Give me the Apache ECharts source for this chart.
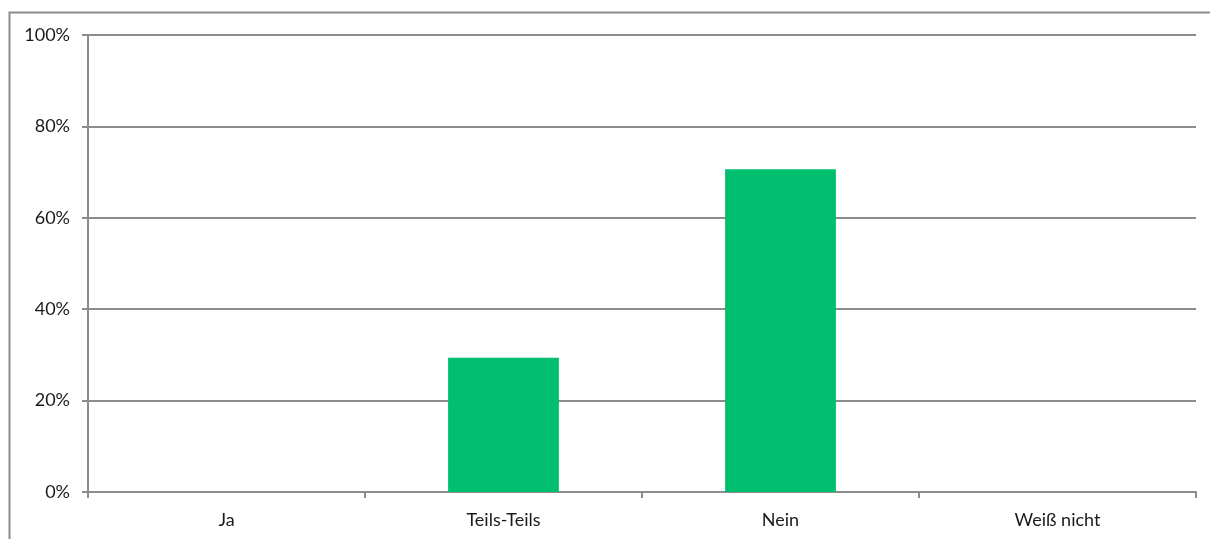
<!DOCTYPE html>
<html>
<head>
<meta charset="utf-8">
<script src="https://cdn.jsdelivr.net/npm/echarts@6/dist/echarts.min.js"></script>
<style>
  html, body { margin: 0; padding: 0; background: #fff; }
  #chart { width: 1210px; height: 539px; }
</style>
</head>
<body>
<div id="chart"></div>
<script>
// Survey answers and their share of respondents (percent)
const categories = ['Ja', 'Teils-Teils', 'Nein', 'Weiß nicht'];
const shares = [0, 29.4, 70.6, 0];
const yTicks = [0, 20, 40, 60, 80, 100];

const lineGray = '#8c8c8c';
const font = 'Lato, "Open Sans", "Liberation Sans", sans-serif';

const chart = echarts.init(document.getElementById('chart'), null, { renderer: 'canvas' });
chart.setOption({
  animation: false,
  backgroundColor: '#fff',
  graphic: [{
    type: 'rect',
    shape: { x: 9.5, y: 12.5, width: 1220, height: 600 },
    style: { fill: 'none', stroke: lineGray, lineWidth: 2 },
    silent: true,
    z: -10
  }],
  grid: { left: 88, right: 14, top: 35, bottom: 47, containLabel: false },
  xAxis: {
    type: 'category',
    data: categories,
    axisLine: { show: true, lineStyle: { color: lineGray, width: 2 } },
    axisTick: { show: true, alignWithLabel: false, length: 6, inside: false, lineStyle: { color: lineGray, width: 2 } },
    axisLabel: { color: '#1a1a1a', fontSize: 18, fontFamily: font, margin: 19 },
    splitLine: { show: false }
  },
  yAxis: {
    type: 'value',
    min: yTicks[0],
    max: yTicks[yTicks.length - 1],
    interval: 20,
    axisLine: { show: true, lineStyle: { color: lineGray, width: 2 } },
    axisTick: { show: true, length: 6, inside: false, lineStyle: { color: lineGray, width: 2 } },
    axisLabel: {
      color: '#1a1a1a', fontSize: 18, fontFamily: font, margin: 18,
      formatter: v => v + '%'
    },
    splitLine: { show: true, lineStyle: { color: lineGray, width: 2 } }
  },
  series: [{
    type: 'bar',
    data: shares,
    barCategoryGap: '60%',
    itemStyle: { color: '#00BF6F' }
  }]
});
</script>
</body>
</html>
